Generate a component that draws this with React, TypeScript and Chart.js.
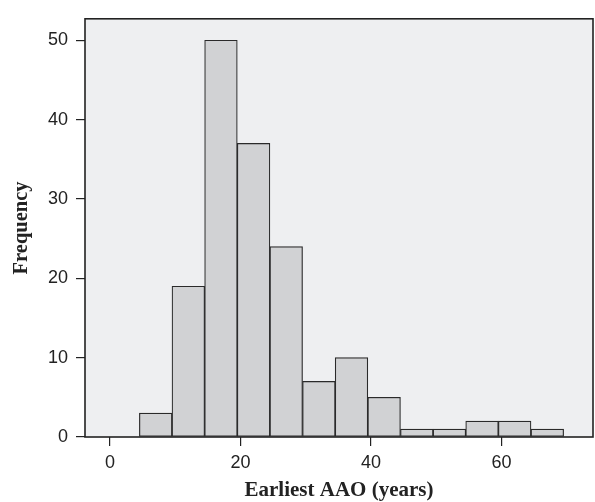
import React, { useEffect, useRef } from "react";
import { Chart, registerables } from "chart.js";

Chart.register(...registerables);

// Bin centers (years) and frequencies
const binCenters = [7, 12, 17, 22, 27, 32, 37, 42, 47, 52, 57, 62, 67];
const frequencies = [3, 19, 50, 37, 24, 7, 10, 5, 1, 1, 2, 2, 1];
const xTickValues = [0, 20, 40, 60];
const yTickValues = [0, 10, 20, 30, 40, 50];
const xTitle = "Earliest AAO (years)";
const yTitle = "Frequency";

const framePlugin = {
  id: "frame",
  beforeDraw(chart: any) {
    const { ctx, chartArea: a } = chart;
    ctx.save();
    ctx.fillStyle = "#eeeff1";
    ctx.fillRect(a.left, a.top, a.right - a.left, a.bottom - a.top);
    ctx.restore();
  },
  afterDatasetsDraw(chart: any) {
    const { ctx, chartArea: a } = chart;
    ctx.save();
    ctx.strokeStyle = "#222222";
    ctx.lineWidth = 1.6;
    ctx.strokeRect(a.left, a.top, a.right - a.left, a.bottom - a.top);
    ctx.restore();
  },
};

export default function App() {
  const ref = useRef<HTMLCanvasElement | null>(null);

  useEffect(() => {
    document.body.style.margin = "0";
    const canvas = ref.current!;
    const chart = new Chart(canvas, {
      type: "bar",
      data: {
        datasets: [
          {
            data: binCenters.map((x, i) => ({ x, y: frequencies[i] })),
            backgroundColor: "#d1d2d4",
            borderColor: "#2a2a2a",
            borderWidth: 1.2,
            borderSkipped: false,
            barPercentage: 1,
            categoryPercentage: 1,
          },
        ],
      },
      options: {
        responsive: false,
        animation: false,
        events: [],
        layout: { padding: { top: 7, right: 2, left: 0, bottom: 0 } },
        plugins: { legend: { display: false }, tooltip: { enabled: false } },
        scales: {
          x: {
            type: "linear",
            min: -3.83,
            max: 74,
            offset: false,
            afterBuildTicks: (s: any) => {
              s.ticks = xTickValues.map((v) => ({ value: v }));
            },
            afterFit: (s: any) => {
              s.height = 65;
            },
            grid: {
              offset: false,
              drawOnChartArea: false,
              drawTicks: true,
              tickLength: 9,
              color: "#222222",
              lineWidth: 1.2,
            },
            border: { display: false },
            ticks: {
              padding: 6,
              color: "#222222",
              font: { family: "'Liberation Sans', Arial, sans-serif", size: 18 },
              maxRotation: 0,
            },
            title: {
              display: true,
              text: xTitle,
              color: "#222222",
              padding: { top: 0, bottom: -1.5 },
              font: { family: "'Liberation Serif', 'Times New Roman', serif", size: 21, weight: "bold" },
            },
          },
          y: {
            type: "linear",
            min: 0,
            max: 52.7,
            afterBuildTicks: (s: any) => {
              s.ticks = yTickValues.map((v) => ({ value: v }));
            },
            afterFit: (s: any) => {
              s.width = 85;
            },
            grid: {
              drawOnChartArea: false,
              drawTicks: true,
              tickLength: 9,
              color: "#222222",
              lineWidth: 1.2,
            },
            border: { display: false },
            ticks: {
              padding: 8,
              color: "#222222",
              font: { family: "'Liberation Sans', Arial, sans-serif", size: 18 },
            },
            title: {
              display: true,
              text: yTitle,
              color: "#222222",
              padding: { top: 9, bottom: 0 },
              font: { family: "'Liberation Serif', 'Times New Roman', serif", size: 20.5, weight: "bold" },
            },
          },
        },
      },
      plugins: [framePlugin],
    } as any);
    return () => chart.destroy();
  }, []);

  return (
    <div style={{ position: "absolute", left: 0, top: 0, width: 595, height: 502 }}>
      <canvas ref={ref} width={595} height={502} style={{ width: 595, height: 502, display: "block" }} />
    </div>
  );
}
